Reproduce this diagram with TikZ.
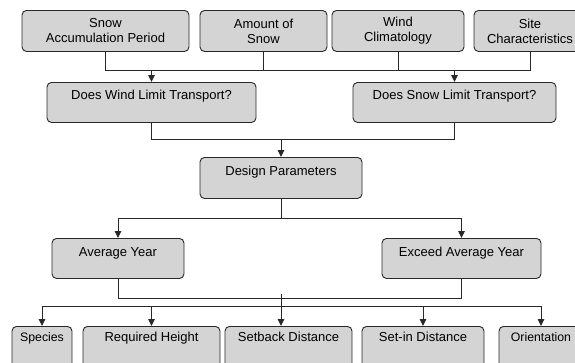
\documentclass[tikz,border=0pt]{standalone}
\usepackage{fontspec}
\setmainfont{Liberation Sans}
\usetikzlibrary{arrows.meta}
\definecolor{boxfill}{RGB}{212,212,212}
\definecolor{linec}{RGB}{40,40,40}
\tikzset{
  box/.style={draw=linec, fill=boxfill, rounded corners=4.5pt, line width=0.9pt, inner sep=0pt, anchor=north, font=\fontsize{13}{15}\selectfont},
  topbox/.style={box, align=center, minimum height=41pt},
  midbox/.style={box, text height=17pt, text depth=23pt},
  lowbox/.style={box, text height=15pt, text depth=45pt},
  smallfont/.style={font=\fontsize{12.3}{15}\selectfont},
  conn/.style={draw=linec, line width=0.9pt},
  arr/.style={conn, -{Triangle[length=7pt,width=6.5pt]}},
}
\begin{document}
\begin{tikzpicture}[x=1pt,y=-1pt]
\useasboundingbox (0,0) rectangle (575,362);
\clip (0,0) rectangle (575,362);
% top row
\node[topbox, minimum width=167pt] (period) at (105.5,10) {Snow\\Accumulation Period};
\node[topbox, minimum width=127pt] (amount) at (263.5,10) {Amount of\\Snow};
\node[topbox, minimum width=132pt] (climate) at (398,10) {Wind\\Climatology};
\node[topbox, minimum width=112pt] (site) at (530,10) {Site\\Characteristics};
% second row
\node[midbox, minimum width=209pt] (windlim) at (151.5,82) {Does Wind Limit Transport?};
\node[midbox, minimum width=203pt] (snowlim) at (454.5,82) {Does Snow Limit Transport?};
% design
\node[midbox, minimum width=162pt, text height=18pt] (design) at (281,157) {Design Parameters};
% years
\node[midbox, minimum width=132pt, text height=18pt, text depth=22pt] (avg) at (118,238) {Average Year};
\node[midbox, minimum width=159pt, text height=18pt, text depth=22pt] (exceed) at (461.5,238) {Exceed Average Year};
% bottom row
\node[lowbox, smallfont, minimum width=60pt] (species) at (42,326) {Species};
\node[lowbox, minimum width=137pt] (height) at (151.5,326) {Required Height};
\node[lowbox, minimum width=127pt] (setback) at (288.5,326) {Setback Distance};
\node[lowbox, minimum width=122pt] (setin) at (423,326) {Set-in Distance};
\node[lowbox, smallfont, minimum width=84pt] (orient) at (541,326) {Orientation};
% junction coordinates
\coordinate (b1) at (281,70);
\coordinate (b2) at (281,139);
\coordinate (b3) at (281,218);
\coordinate (b4) at (281,298);
\coordinate (b4top) at (281,294);
\coordinate (b5) at (281,306);
% bus 1
\draw[conn] (period.south) -- (period.south |- b1) -- (site.south |- b1) -- (site.south);
\draw[conn] (amount.south) -- (amount.south |- b1);
\draw[conn] (climate.south) -- (climate.south |- b1);
\draw[arr] (windlim.north |- b1) -- (windlim.north);
\draw[arr] (snowlim.north |- b1) -- (snowlim.north);
% bus 2
\draw[conn] (windlim.south) -- (windlim.south |- b2) -- (snowlim.south |- b2) -- (snowlim.south);
\draw[arr] (b2) -- (design.north);
% bus 3
\draw[conn] (design.south) -- (b3);
\draw[arr] (b3) -| (avg.north);
\draw[arr] (b3) -| (exceed.north);
% bus 4
\draw[conn] (avg.south) -- (avg.south |- b4) -- (exceed.south |- b4) -- (exceed.south);
\draw[arr] (b4top) -- (b4top |- setback.north);
% bus 5
\draw[conn] (species.north |- b5) -- (orient.north |- b5);
\draw[arr] (species.north |- b5) -- (species.north);
\draw[arr] (height.north |- b5) -- (height.north);
\draw[arr] (setin.north |- b5) -- (setin.north);
\draw[arr] (orient.north |- b5) -- (orient.north);
\end{tikzpicture}
\end{document}
